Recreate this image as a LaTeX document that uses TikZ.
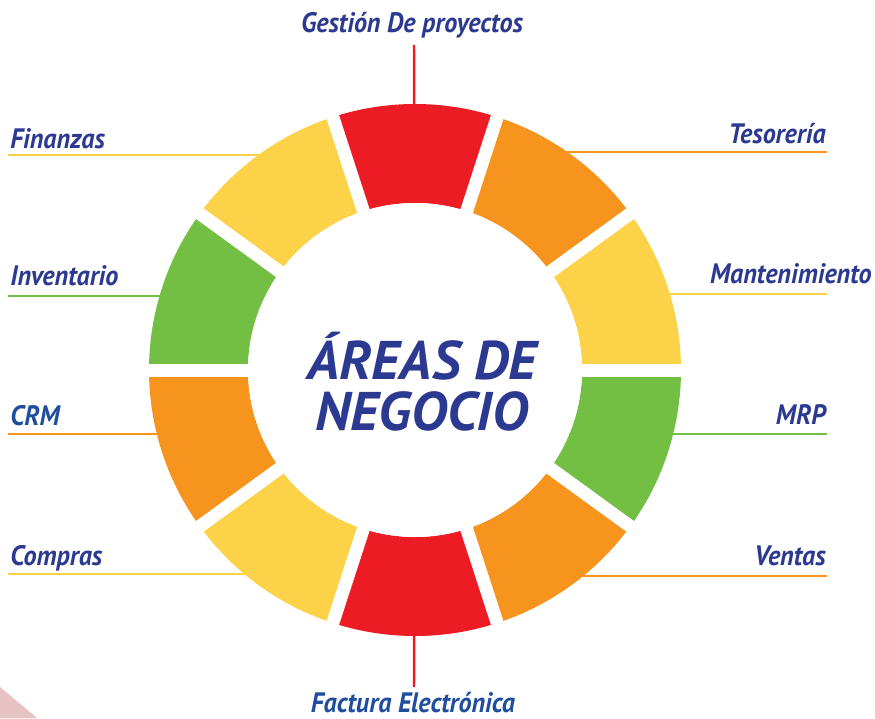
\documentclass[tikz,border=0pt]{standalone}
\usepackage{fontspec}
\setmainfont{PT Sans}
\usepackage{xcolor}
\usepackage{tikz}
\usetikzlibrary{calc}

\definecolor{rojo}{HTML}{ED1C24}
\definecolor{naranja}{HTML}{F7941D}
\definecolor{amarillo}{HTML}{FBD248}
\definecolor{verde}{HTML}{72BF44}
\definecolor{azul}{HTML}{2B3990}
\definecolor{azulb}{HTML}{1F4E9F}
\definecolor{rosa}{HTML}{E6C3C2}

\tikzset{
    etiqueta/.style={font=\bfseries\itshape\fontsize{16}{18}\selectfont, text=azul, inner sep=0pt, xscale=0.93},
    centro/.style={font=\bfseries\itshape\fontsize{31}{29}\selectfont, text=azul, inner sep=0pt, align=center, xscale=1.02},
    linea/.style={line width=1.4pt}
}

\begin{document}
\begin{tikzpicture}[x=0.02cm, y=0.02cm]
            \useasboundingbox (0,0) rectangle (875,718);
            \fill[rosa] (0,31) -- (37,0) -- (0,0) -- cycle;
            
            \coordinate (c) at (415,348);
            
            % etiquetas izquierda
            \foreach \n/\t/\yb/\yl/\col/\tc in {fin/Finanzas/148/155/amarillo/azul, inv/Inventario/285/296/verde/azul, crm/CRM/425/434/naranja/azulb, com/Compras/565/574/amarillo/azul} {
                \node[etiqueta, text=\tc, anchor=base west] (\n) at (10,718-\yb) {\t};
                \coordinate (\n-l) at (8,718-\yl);
                \draw[linea, \col] (\n-l) -- (\n-l -| c);
            }
            
            % etiquetas derecha
            \foreach \n/\t/\xb/\yb/\yl/\col in {tes/Tesorería/826/143/152/naranja, man/Mantenimiento/872/283/294/amarillo, mrp/MRP/826/424/434/verde, ven/Ventas/826/565/576/naranja} {
                \node[etiqueta, anchor=base east] (\n) at (\xb,718-\yb) {\t};
                \coordinate (\n-l) at (827,718-\yl);
                \draw[linea, \col] (\n-l) -- (\n-l -| c);
            }
            
            \node[etiqueta, anchor=base] (ges) at (412,685) {Gestión De proyectos};
            \coordinate (ges-l) at (414,673);
            \draw[linea, rojo] (ges-l) -- (c);
            
            \node[etiqueta, text=azulb, anchor=base] (fac) at (413,6) {Factura Electrónica};
            \coordinate (fac-l) at (414,31);
            \draw[linea, rojo] (fac-l) -- (c);
            
            % anillo
            \foreach \a/\col in {72/rojo, 36/naranja, 0/amarillo, -36/verde, -72/naranja, -108/rojo, -144/amarillo, 180/naranja, 144/verde, 108/amarillo} {
                \fill[\col] ($(c)+(\a:266)$) arc[start angle=\a, end angle=\a+36, radius=266]
                    -- ($(c)+(\a+36:167)$) arc[start angle=\a+36, end angle=\a, radius=167] -- cycle;
            }
            \fill[white] (c) circle[radius=167];
            \foreach \a in {0,36,...,324} {
                \draw[white, line width=0.26cm] (c) -- ++(\a:270);
            }
            
            \node[centro] (titulo) at (422,336) {ÁREAS DE\\NEGOCIO};
            
        \end{tikzpicture}
\end{document}
